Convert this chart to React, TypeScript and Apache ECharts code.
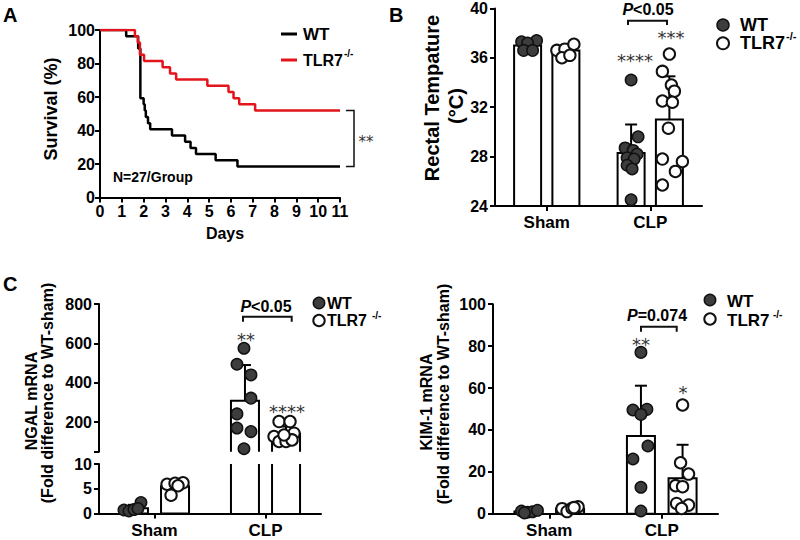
import React, { useEffect, useRef } from 'react';
import * as echarts from 'echarts';

const FONT = '"Liberation Sans", Arial, Helvetica, sans-serif';
const STAR_FONT = '"DejaVu Sans", sans-serif';

// ---------- Panel A: survival (Kaplan-Meier), value after each event ----------
const survDaysWT = [0, 1.2, 1.75, 1.85, 2.0, 2.05, 2.1, 2.2, 2.3, 3.3, 3.9, 4.15, 4.4, 5.3, 6.3, 11];
const survWT = [100, 96.3, 88.9, 59.3, 55.6, 51.9, 48.1, 44.4, 40.7, 37.0, 33.3, 29.6, 25.9, 22.2, 18.5, 18.5];
const survDaysKO = [0, 1.6, 1.73, 1.83, 2.02, 2.87, 3.21, 3.49, 4.92, 5.89, 6.12, 6.38, 7.11, 11];
const survKO = [100, 96.3, 92.6, 85.2, 81.5, 77.8, 74.1, 70.4, 66.7, 63.0, 59.3, 55.6, 51.9, 51.9];
const dayTicks = [0, 11];

// ---------- shared ----------
const groups = ['Sham', 'CLP'];

// ---------- Panel B: rectal temperature ----------
const tempWTMean = [37.0, 28.3];
const tempWTSD = [0.4, 2.3];
const tempKOMean = [36.6, 31.0];
const tempKOSD = [0.4, 3.5];
const tempWTSham = [37.3, 37.4, 37.2, 36.6, 36.6];
const tempWTCLP = [34.2, 29.6, 28.7, 28.5, 28.2, 27.9, 27.8, 27.3, 27.0, 24.5];
const tempKOSham = [36.6, 36.7, 37.1, 36.0, 36.2];
const tempKOCLP = [36.3, 34.9, 33.8, 33.3, 32.5, 32.4, 30.3, 27.8, 27.6, 26.8, 25.7];
// horizontal scatter (px) of the dots
const tempWTShamJit = [-6, 9, 0, -4, 5];
const tempWTCLPJit = [0, 7, -6, 2, 6, -4, 3, -4, 1, 0];
const tempKOShamJit = [-9, -1, 8, -4, 4];
const tempKOCLPJit = [0, -7, 2, 5, -7, 3, -1, -7, 13, 6, -7];

// ---------- Panel C: NGAL mRNA ----------
const ngalWTMean = [1.05, 309];
const ngalWTSD = [0.7, 181];
const ngalKOMean = [5.5, 141];
const ngalKOSD = [1.0, 37];
const ngalWTSham = [2.2, 0.7, 0.5, 0.8, 1.0];
const ngalWTCLP = [575, 494, 440, 322, 242, 170, 152, 65];
const ngalKOSham = [5.9, 6.1, 6.2, 3.7, 5.6];
const ngalKOCLP = [203, 203, 144, 127, 102, 102, 110, 135];
const ngalWTShamJit = [7, -10, -5, 0, 4];
const ngalWTCLPJit = [-1, -8, 6, 6, -8, -8, 6, -1];
const ngalKOShamJit = [-8, 0, 8, -4, 3];
const ngalKOCLPJit = [-7, 4, 8, -12, -7, 0, 6, -2];

// ---------- Panel D: KIM-1 mRNA ----------
const kimWTMean = [1.0, 37.1];
const kimWTSD = [0.5, 24];
const kimKOMean = [2.4, 16.9];
const kimKOSD = [0.8, 16];
const kimWTSham = [1.3, 0.7, 0.9, 1.6, 0.4];
const kimWTCLP = [77.0, 49.5, 49.8, 47.4, 32.3, 26.1, 12.6, 1.3];
const kimKOSham = [2.4, 1.0, 2.6, 3.3, 2.9];
const kimKOCLP = [51.9, 24.3, 18.9, 13.4, 12.9, 4.9, 4.1, 2.5];
const kimWTShamJit = [-7, -1, 4, 9, -4];
const kimWTCLPJit = [0, -8, 6, 0, 7, -8, 0, 0];
const kimKOShamJit = [-8, -3, 2, 8, 4];
const kimKOCLPJit = [0, -2, 6, -7, 0, -6, 6, -1];

const OFF = 0.185; // bar offset from group centre (axis units)
const WT_FILL = '#3d3d3d';
const RED = '#e3141b';

function barRender(widthPx: number, openBottom: boolean) {
  return (params: any, api: any) => {
    const x = api.value(0);
    const v = api.value(1);
    const cs = params.coordSys;
    const p = api.coord([x, v]);
    const bottom = cs.y + cs.height;
    const over = p[1] < cs.y;
    const top = over ? cs.y : p[1];
    if (p[1] > bottom) return null;
    const l = p[0] - widthPx / 2;
    const r = p[0] + widthPx / 2;
    const st = { stroke: '#000', lineWidth: 2, fill: 'none' };
    if (over) {
      return {
        type: 'group',
        children: [
          { type: 'line', shape: { x1: l, y1: bottom, x2: l, y2: top }, style: st },
          { type: 'line', shape: { x1: r, y1: bottom, x2: r, y2: top }, style: st },
        ],
      };
    }
    if (openBottom) {
      return { type: 'polyline', shape: { points: [[l, bottom], [l, top], [r, top], [r, bottom]] }, style: st };
    }
    return { type: 'rect', shape: { x: l, y: top, width: widthPx, height: bottom - top }, style: { stroke: '#000', lineWidth: 2, fill: '#fff' } };
  };
}

function errRender(params: any, api: any) {
  const x = api.value(0);
  const m = api.value(1);
  const sd = api.value(2);
  const cs = params.coordSys;
  const p0 = api.coord([x, m]);
  const p1 = api.coord([x, m + sd]);
  if (p0[1] < cs.y || p0[1] > cs.y + cs.height) return null;
  const st = { stroke: '#000', lineWidth: 2 };
  return {
    type: 'group',
    children: [
      { type: 'line', shape: { x1: p0[0], y1: p0[1], x2: p1[0], y2: p1[1] }, style: st },
      { type: 'line', shape: { x1: p1[0] - 6, y1: p1[1], x2: p1[0] + 6, y2: p1[1] }, style: st },
    ],
  };
}

function dotRender(filled: boolean) {
  return (params: any, api: any) => {
    const p = api.coord([api.value(0), api.value(1)]);
    return {
      type: 'circle',
      shape: { cx: p[0] + api.value(2), cy: p[1], r: 5.7 },
      style: filled
        ? { fill: WT_FILL, stroke: '#111', lineWidth: 1.5 }
        : { fill: '#fff', stroke: '#111', lineWidth: 2 },
    };
  };
}

const dots = (gi: number, x: number, vals: number[], jit: number[]) => vals.map((v, i) => [gi + x, v, jit[i]]);

function barPanelSeries(axis: number, means: number[][], sds: number[][], pts: any[][], widthPx: number, openBottom: boolean, showErr: boolean[]) {
  const barData: any[] = [];
  const errData: any[] = [];
  groups.forEach((_, gi) => {
    barData.push([gi - OFF, means[0][gi]]);
    barData.push([gi + OFF, means[1][gi]]);
    if (showErr[gi]) {
      errData.push([gi - OFF, means[0][gi], sds[0][gi]]);
      errData.push([gi + OFF, means[1][gi], sds[1][gi]]);
    }
  });
  return [
    { type: 'custom', xAxisIndex: axis, yAxisIndex: axis, renderItem: barRender(widthPx, openBottom), data: barData, z: 1, clip: false },
    { type: 'custom', xAxisIndex: axis, yAxisIndex: axis, renderItem: errRender, data: errData, z: 2, clip: false },
    { type: 'custom', xAxisIndex: axis, yAxisIndex: axis, renderItem: dotRender(true), data: pts[0], z: 3, clip: false },
    { type: 'custom', xAxisIndex: axis, yAxisIndex: axis, renderItem: dotRender(false), data: pts[1], z: 3, clip: false },
  ];
}

const axisLine = { show: true, onZero: false, lineStyle: { color: '#000', width: 2 } };
const axisTick = { show: true, length: 5, lineStyle: { color: '#000', width: 2 } };
const tickLabel = { color: '#000', fontFamily: FONT, fontWeight: 'bold', fontSize: 16 };

function groupXAxis(gridIndex: number, show: boolean) {
  return {
    type: 'value', gridIndex, min: -0.5, max: 1.5, show,
    axisLine, splitLine: { show: false },
    axisTick: { ...axisTick, customValues: [0, 1] },
    axisLabel: { ...tickLabel, fontSize: 17, margin: 8, customValues: [0, 1], formatter: (v: number) => groups[Math.round(v)] },
  };
}

function text(x: number, y: number, t: string, o: any = {}) {
  return { type: 'text', x, y, z: 100, style: { text: t, fontFamily: FONT, fontSize: 16, fontWeight: 'bold', fill: '#000', align: 'left', verticalAlign: 'middle', ...o } };
}
function vtext(x: number, y: number, t: string, o: any = {}) {
  return { type: 'text', x, y, rotation: Math.PI / 2, z: 100, style: { text: t, fontFamily: FONT, fontSize: 16, fontWeight: 'bold', fill: '#000', align: 'center', verticalAlign: 'middle', ...o } };
}
function stars(x: number, y: number, t: string, size = 18) {
  return { type: 'text', x, y: y + 4, z: 100, style: { text: t, fontFamily: STAR_FONT, fontSize: size, fontWeight: 'normal', fill: '#333', align: 'center', verticalAlign: 'middle' } };
}
function bracket(pts: number[][], w = 2) {
  return { type: 'polyline', z: 100, shape: { points: pts }, style: { stroke: '#111', lineWidth: w, fill: 'none' } };
}
function pval(cx: number, y: number, rest: string) {
  return {
    type: 'text', x: cx, y, z: 100,
    style: {
      text: '{i|P}{n|' + rest + '}', align: 'center', verticalAlign: 'middle',
      rich: {
        i: { fontFamily: FONT, fontSize: 16, fontWeight: 'bold', fontStyle: 'italic', fill: '#000' },
        n: { fontFamily: FONT, fontSize: 16, fontWeight: 'bold', fill: '#000' },
      },
    },
  };
}
function dotLegend(cx: number, cy: number, filled: boolean, r = 5.7) {
  return {
    type: 'circle', z: 100, shape: { cx, cy, r },
    style: filled ? { fill: WT_FILL, stroke: '#111', lineWidth: 1.5 } : { fill: '#fff', stroke: '#111', lineWidth: 2 },
  };
}

const option: any = {
  animation: false,
  backgroundColor: '#fff',
  textStyle: { fontFamily: FONT },
  grid: [
    { left: 100, top: 30, width: 240, height: 167.5, containLabel: false, outerBoundsMode: 'none' },
    { left: 495, top: 8.4, width: 207, height: 197.6, containLabel: false, outerBoundsMode: 'none' },
    { left: 99, top: 304, width: 222, height: 147.7, containLabel: false, outerBoundsMode: 'none' },
    { left: 99, top: 464, width: 222, height: 49.5, containLabel: false, outerBoundsMode: 'none' },
    { left: 493, top: 304.2, width: 225, height: 209.5, containLabel: false, outerBoundsMode: 'none' },
  ],
  xAxis: [
    {
      type: 'value', gridIndex: 0, min: dayTicks[0], max: dayTicks[1], interval: 1,
      axisLine, axisTick, splitLine: { show: false }, axisLabel: { ...tickLabel, margin: 6 },
    },
    groupXAxis(1, true),
    groupXAxis(2, false),
    groupXAxis(3, true),
    groupXAxis(4, true),
  ],
  yAxis: [
    { type: 'value', gridIndex: 0, min: 0, max: 100, interval: 20, axisLine, axisTick, splitLine: { show: false }, axisLabel: { ...tickLabel, margin: 5 } },
    { type: 'value', gridIndex: 1, min: 24, max: 40, interval: 4, axisLine, axisTick, splitLine: { show: false }, axisLabel: { ...tickLabel, margin: 7 } },
    {
      type: 'value', gridIndex: 2, min: 50, max: 800, axisLine, splitLine: { show: false },
      axisTick: { ...axisTick, customValues: [50, 200, 400, 600, 800] },
      axisLabel: { ...tickLabel, margin: 7, customValues: [200, 400, 600, 800] },
    },
    { type: 'value', gridIndex: 3, min: 0, max: 10, interval: 5, axisLine, axisTick, splitLine: { show: false }, axisLabel: { ...tickLabel, margin: 7 } },
    { type: 'value', gridIndex: 4, min: 0, max: 100, interval: 20, axisLine, axisTick, splitLine: { show: false }, axisLabel: { ...tickLabel, margin: 7 } },
  ],
  series: [
    {
      type: 'line', xAxisIndex: 0, yAxisIndex: 0, step: 'end', symbol: 'none', z: 2,
      lineStyle: { color: '#000', width: 2.5 },
      data: survDaysWT.map((d, i) => [d, survWT[i]]),
    },
    {
      type: 'line', xAxisIndex: 0, yAxisIndex: 0, step: 'end', symbol: 'none', z: 3,
      lineStyle: { color: RED, width: 2.5 },
      data: survDaysKO.map((d, i) => [d, survKO[i]]),
    },
    ...barPanelSeries(1, [tempWTMean, tempKOMean], [tempWTSD, tempKOSD], [
      [...dots(0, -OFF, tempWTSham, tempWTShamJit), ...dots(1, -OFF, tempWTCLP, tempWTCLPJit)],
      [...dots(0, OFF, tempKOSham, tempKOShamJit), ...dots(1, OFF, tempKOCLP, tempKOCLPJit)],
    ], 27, false, [true, true]),
    // NGAL upper (broken) segment: CLP only
    ...barPanelSeries(2, [ngalWTMean, ngalKOMean], [ngalWTSD, ngalKOSD], [
      dots(1, -OFF, ngalWTCLP, ngalWTCLPJit),
      dots(1, OFF, ngalKOCLP, ngalKOCLPJit),
    ], 28, true, [false, true]),
    // NGAL lower segment: Sham + CLP bar walls
    ...barPanelSeries(3, [ngalWTMean, ngalKOMean], [ngalWTSD, ngalKOSD], [
      dots(0, -OFF, ngalWTSham, ngalWTShamJit),
      dots(0, OFF, ngalKOSham, ngalKOShamJit),
    ], 28, false, [true, false]),
    ...barPanelSeries(4, [kimWTMean, kimKOMean], [kimWTSD, kimKOSD], [
      [...dots(0, -OFF, kimWTSham, kimWTShamJit), ...dots(1, -OFF, kimWTCLP, kimWTCLPJit)],
      [...dots(0, OFF, kimKOSham, kimKOShamJit), ...dots(1, OFF, kimKOCLP, kimKOCLPJit)],
    ], 28, false, [true, true]),
  ],
  graphic: [
    // panel letters
    text(3, 15, 'A', { fontSize: 20 }),
    text(389, 15, 'B', { fontSize: 20 }),
    text(3, 284, 'C', { fontSize: 20 }),
    // Panel A
    vtext(51, 109, 'Survival (%)', { fontSize: 18 }),
    text(225, 233, 'Days', { align: 'center' }),
    text(113, 177, 'N=27/Group', { fontSize: 14 }),
    { type: 'line', z: 100, shape: { x1: 281, y1: 34, x2: 297, y2: 34 }, style: { stroke: '#000', lineWidth: 3 } },
    { type: 'line', z: 100, shape: { x1: 281, y1: 60, x2: 297, y2: 60 }, style: { stroke: RED, lineWidth: 3 } },
    text(303, 34, 'WT', { fontSize: 17 }),
    text(303, 60, 'TLR7', { fontSize: 16 }),
    text(344, 53, '-/-', { fontSize: 10 }),
    bracket([[346, 110.5], [354, 110.5], [354, 166.5], [346, 166.5]], 1.5),
    stars(366, 138, '**', 15),
    // Panel B
    vtext(432, 98, 'Rectal Tempature', { fontSize: 20 }),
    vtext(456, 106, '(°C)', { fontSize: 20 }),
    pval(648, 9, '<0.05'),
    bracket([[628, 25], [628, 20.7], [667, 20.7], [667, 25]]),
    stars(635, 56, '****'),
    stars(671, 33, '***'),
    dotLegend(723, 25, true, 6),
    dotLegend(723, 43.3, false, 6),
    text(740, 25, 'WT', { fontSize: 18 }),
    text(740, 43.3, 'TLR7', { fontSize: 18 }),
    text(786, 36, '-/-', { fontSize: 11 }),
    // Panel C
    vtext(31, 401, 'NGAL mRNA'),
    vtext(47.5, 393, '(Fold difference to WT-sham)'),
    pval(266, 306.7, '<0.05'),
    bracket([[243, 321.7], [243, 316.7], [291.7, 316.7], [291.7, 321.7]]),
    stars(246, 335, '**'),
    stars(287, 407, '****'),
    dotLegend(319, 303, true),
    dotLegend(319, 320.5, false),
    text(327, 303, 'WT', { fontSize: 16 }),
    text(327, 320.5, 'TLR7', { fontSize: 16 }),
    text(372, 315, '-/-', { fontSize: 10 }),
    // Panel D
    vtext(426, 402, 'KIM-1 mRNA'),
    vtext(443, 394, '(Fold difference to WT-sham)'),
    pval(657, 315, '=0.074'),
    bracket([[641, 331.7], [641, 326.7], [676.7, 326.7], [676.7, 331.7]]),
    stars(641, 340, '**'),
    stars(683, 388, '*'),
    dotLegend(710, 300, true),
    dotLegend(710, 319, false),
    text(727, 301, 'WT', { fontSize: 17 }),
    text(727, 320, 'TLR7', { fontSize: 17 }),
    text(773, 314, '-/-', { fontSize: 10 }),
  ],
};

export default function App() {
  const ref = useRef<HTMLDivElement>(null);
  useEffect(() => {
    const chart = echarts.init(ref.current as HTMLDivElement, null, { renderer: 'svg' });
    chart.setOption(option);
    return () => chart.dispose();
  }, []);
  return <div ref={ref} style={{ position: 'absolute', left: 0, top: 0, width: 800, height: 540 }} />;
}
